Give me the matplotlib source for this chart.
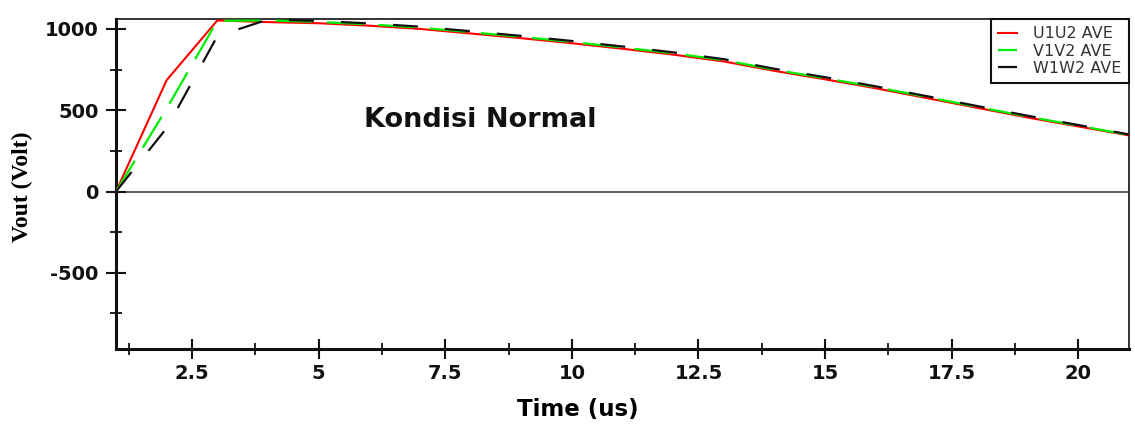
import matplotlib
matplotlib.use("Agg")
import matplotlib.pyplot as plt
from matplotlib.ticker import MultipleLocator

plt.rcParams['lines.scale_dashes'] = False

# time points (us)
t = [1, 2, 3, 4, 5, 6, 7, 8, 9, 10, 11, 12, 13, 14, 15, 16, 17, 18, 19, 20, 21]

# average output voltage per phase pair (Volt)
u1u2 = [0, 685, 1052, 1042, 1035, 1020, 1000, 972, 943, 912, 878, 842, 800, 742,
        690, 635, 575, 515, 455, 400, 345]
v1v2 = [0, 510, 1050, 1052, 1043, 1028, 1008, 980, 951, 920, 886, 850, 808, 749,
        697, 642, 582, 521, 461, 405, 348]
w1w2 = [0, 390, 955, 1058, 1049, 1034, 1014, 986, 957, 926, 892, 856, 814, 755,
        703, 647, 587, 526, 466, 409, 351]

xticks = [2.5, 5, 7.5, 10, 12.5, 15, 17.5, 20]
xtick_labels = ['2.5', '5', '7.5', '10', '12.5', '15', '17.5', '20']
yticks = [-500, 0, 500, 1000]
ytick_labels = ['-500', '0', '500', '1000']

fig = plt.figure(figsize=(11.35, 4.32), dpi=100)
ax = fig.add_axes([0.1022, 0.192, 0.8925, 0.764])

ax.axhline(0, color='#333333', lw=1.1, zorder=1)

ax.plot(t, u1u2, color='#ff0000', lw=1.5, label='U1U2 AVE', zorder=3)
ax.plot(t, v1v2, color='#00ee00', lw=1.6, dashes=(26, 11), label='V1V2 AVE', zorder=4)
ax.plot(t, w1w2, color='#111111', lw=1.6, dashes=(18, 19.5), label='W1W2 AVE', zorder=5)

ax.set_xlim(1, 21)
ax.set_ylim(-969, 1061)

ax.set_xticks(xticks)
ax.set_xticklabels(xtick_labels)
ax.set_yticks(yticks)
ax.set_yticklabels(ytick_labels)
ax.xaxis.set_minor_locator(MultipleLocator(1.25))
ax.yaxis.set_minor_locator(MultipleLocator(250))

ax.tick_params(which='major', direction='inout', length=15, width=1.5,
               colors='#111111', labelsize=14)
ax.tick_params(which='minor', direction='inout', length=8, width=1.3, colors='#111111')
ax.tick_params(axis='y', which='major', pad=5)
ax.tick_params(axis='x', which='major', pad=3)
ax.tick_params(top=False, right=False, which='both')
for lab in ax.get_xticklabels() + ax.get_yticklabels():
    lab.set_fontweight('bold')
    lab.set_color('#111111')

ax.spines['left'].set_linewidth(2.2)
ax.spines['bottom'].set_linewidth(2.2)
ax.spines['top'].set_linewidth(1.2)
ax.spines['right'].set_linewidth(1.2)
for s in ax.spines.values():
    s.set_color('#111111')

ax.set_xlabel('Time (us)', fontsize=16.5, fontweight='bold')
ax.xaxis.set_label_coords(0.456, -0.148)
ax.set_ylabel('Vout (Volt)', fontsize=17, fontweight='bold', family='Liberation Serif')
ax.yaxis.set_label_coords(-0.082, 0.491)

ax.text(8.2, 442, 'Kondisi Normal', fontsize=19.5, fontweight='bold',
        ha='center', va='center', color='#111111')

leg = ax.legend(loc='upper right', fontsize=11.5, frameon=True, fancybox=False,
                borderaxespad=0, handlelength=1.2, handletextpad=1.0,
                labelspacing=0.15, borderpad=0.45)
leg.get_frame().set_edgecolor('#111111')
leg.get_frame().set_linewidth(1.5)
leg.get_frame().set_alpha(1)
for txt in leg.get_texts():
    txt.set_color('#333333')

fig.savefig('out.png', dpi=100)
